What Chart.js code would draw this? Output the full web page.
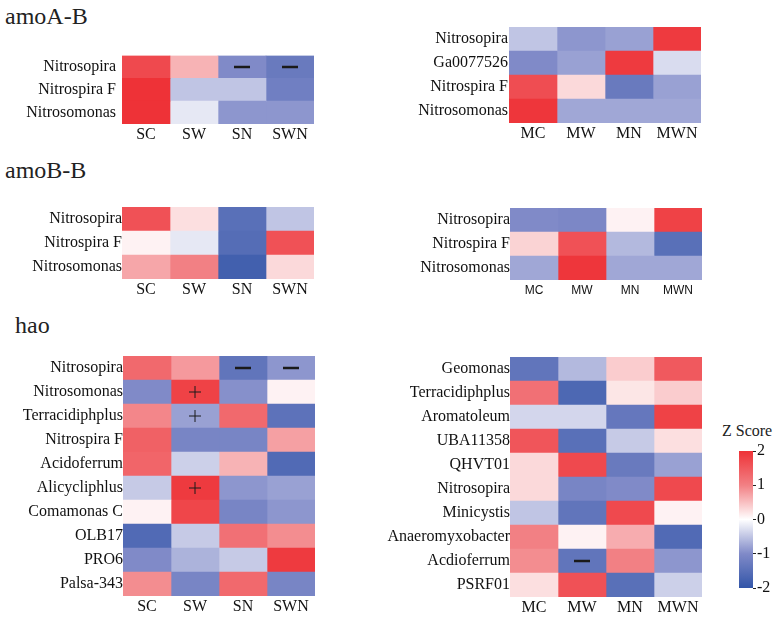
<!DOCTYPE html>
<html>
<head>
<meta charset="utf-8">
<script src="https://cdn.jsdelivr.net/npm/chart.js@4.4.0/dist/chart.umd.min.js"></script>
<style>
  body { margin: 0; background: #fff; }
  #wrap { position: relative; width: 778px; height: 617px; overflow: hidden; }
  canvas { position: absolute; }
  .title { position: absolute; font-family: "Liberation Serif", serif; font-size: 24px; color: #222; line-height: 1; }
  .zs { position: absolute; font-family: "Liberation Serif", serif; font-size: 16px; color: #222; line-height: 1; }
</style>
</head>
<body>
<div id="wrap">
  <div class="title" style="left:5px;top:4px">amoA-B</div>
  <div class="title" style="left:5px;top:158px">amoB-B</div>
  <div class="title" style="left:15px;top:313px">hao</div>
  <div class="zs" style="left:722px;top:423px">Z Score</div>
  <canvas id="aS" width="320" height="100" style="left:0;top:40px"></canvas>
  <canvas id="aM" width="320" height="125" style="left:390px;top:15px"></canvas>
  <canvas id="bS" width="320" height="100" style="left:0;top:195px"></canvas>
  <canvas id="bM" width="320" height="100" style="left:390px;top:196px"></canvas>
  <canvas id="hS" width="320" height="273" style="left:0;top:344px"></canvas>
  <canvas id="hM" width="330" height="272" style="left:380px;top:345px"></canvas>
  <canvas id="bar" width="43" height="160" style="left:735px;top:440px"></canvas>
</div>
<script>
const colsS = ['SC', 'SW', 'SN', 'SWN'];
const colsM = ['MC', 'MW', 'MN', 'MWN'];

// amoA-B
const amoA_S_rows = ['Nitrosopira', 'Nitrospira F', 'Nitrosomonas'];
const amoA_S = [
  [1.7, 0.6, -1.0, -1.3],
  [2.0, -0.5, -0.5, -1.2],
  [2.0, -0.2, -0.9, -0.9]
];
const amoA_S_marks = [[0, 2, '-'], [0, 3, '-']];

const amoA_M_rows = ['Nitrosopira', 'Ga0077526', 'Nitrospira F', 'Nitrosomonas'];
const amoA_M = [
  [-0.5, -0.9, -0.8, 1.9],
  [-1.0, -0.8, 1.9, -0.3],
  [1.65, 0.3, -1.3, -0.8],
  [1.95, -0.75, -0.75, -0.75]
];

// amoB-B
const amoB_S_rows = ['Nitrosopira', 'Nitrospira F', 'Nitrosomonas'];
const amoB_S = [
  [1.6, 0.25, -1.5, -0.5],
  [0.1, -0.2, -1.55, 1.6],
  [0.7, 1.0, -1.8, 0.3]
];

const amoB_M_rows = ['Nitrosopira', 'Nitrospira F', 'Nitrosomonas'];
const amoB_M = [
  [-1.0, -1.05, 0.1, 1.8],
  [0.35, 1.6, -0.6, -1.5],
  [-0.75, 1.95, -0.75, -0.75]
];

// hao
const hao_S_rows = ['Nitrosopira', 'Nitrosomonas', 'Terracidiphplus', 'Nitrospira F', 'Acidoferrum',
  'Alicycliphlus', 'Comamonas C', 'OLB17', 'PRO6', 'Palsa-343'];
const hao_S = [
  [1.3, 0.8, -1.4, -0.9],
  [-1.0, 1.8, -0.95, 0.1],
  [0.95, -0.8, 1.3, -1.45],
  [1.4, -1.1, -1.1, 0.75],
  [1.35, -0.4, 0.6, -1.6],
  [-0.45, 1.9, -0.9, -0.8],
  [0.1, 1.75, -1.1, -0.9],
  [-1.6, -0.45, 1.2, 0.9],
  [-1.0, -0.65, -0.45, 1.9],
  [0.9, -1.1, 1.3, -1.1]
];
const hao_S_marks = [[0, 2, '-'], [0, 3, '-'], [1, 1, '+'], [2, 1, '+'], [5, 1, '+']];

const hao_M_rows = ['Geomonas', 'Terracidiphplus', 'Aromatoleum', 'UBA11358', 'QHVT01', 'Nitrosopira',
  'Minicystis', 'Anaeromyxobacter', 'Acdioferrum', 'PSRF01'];
const hao_M = [
  [-1.4, -0.6, 0.4, 1.5],
  [1.2, -1.65, 0.2, 0.4],
  [-0.35, -0.35, -1.35, 1.8],
  [1.55, -1.5, -0.45, 0.25],
  [0.3, 1.7, -1.3, -0.8],
  [0.3, -1.1, -1.0, 1.7],
  [-0.5, -1.4, 1.7, 0.1],
  [1.0, 0.1, 0.65, -1.6],
  [0.9, -1.4, 1.0, -0.9],
  [0.25, 1.6, -1.5, -0.4]
];
const hao_M_marks = [[8, 1, '-']];

const zTicks = [-2, -1, 0, 1, 2];

// colour stops at z = -2, -1, 0, 1, 2
const zStops = [[50, 85, 168], [128, 138, 200], [255, 255, 255], [242, 128, 132], [238, 50, 55]];

function zColor(z) {
  const t = Math.max(0, Math.min(3.9999, z + 2));
  const i = Math.floor(t), f = t - i;
  const a = zStops[i], b = zStops[i + 1];
  const c = a.map((v, k) => Math.round(v + (b[k] - v) * f));
  return 'rgb(' + c.join(',') + ')';
}

const markPlugin = {
  id: 'marks',
  afterDatasetsDraw(chart, args, opts) {
    const ctx = chart.ctx;
    const xs = chart.scales.x, ys = chart.scales.y;
    ctx.save();
    ctx.strokeStyle = '#1a1a1a';
    (opts.list || []).forEach(([r, c, s]) => {
      const x = xs.getPixelForValue(c + 0.5);
      const y = ys.getPixelForValue(r);
      ctx.beginPath();
      if (s === '-') {
        ctx.lineWidth = 2.5;
        ctx.moveTo(x - 8, y); ctx.lineTo(x + 8, y);
      } else {
        ctx.lineWidth = 1;
        ctx.moveTo(x - 6, y); ctx.lineTo(x + 6, y);
        ctx.moveTo(x, y - 6); ctx.lineTo(x, y + 6);
      }
      ctx.stroke();
    });
    ctx.restore();
  }
};

function heat(id, rows, cols, z, o) {
  new Chart(document.getElementById(id), {
    type: 'bar',
    data: {
      labels: rows,
      datasets: cols.map((c, j) => ({
        data: rows.map(() => [j, j + 1]),
        backgroundColor: rows.map((r, i) => zColor(z[i][j])),
        borderWidth: 0,
        grouped: false,
        barPercentage: 1,
        categoryPercentage: 1
      }))
    },
    options: {
      indexAxis: 'y',
      responsive: false,
      animation: false,
      layout: { padding: { top: o.top, right: o.right, left: 0, bottom: 0 } },
      plugins: { legend: { display: false }, tooltip: { enabled: false }, marks: { list: o.marks || [] } },
      scales: {
        x: {
          type: 'linear', min: 0, max: cols.length,
          afterBuildTicks: s => { s.ticks = cols.map((c, i) => ({ value: i + 0.5 })); },
          afterFit: s => { s.height = o.xh; },
          ticks: {
            autoSkip: false, maxRotation: 0, padding: o.xpad,
            color: '#111',
            font: o.xfont || { family: 'Liberation Serif', size: 16 },
            callback: (v, i) => cols[i]
          },
          grid: { display: false, drawTicks: false },
          border: { display: false }
        },
        y: {
          afterFit: s => { s.width = o.yw; },
          ticks: { color: '#111', padding: o.ypad, font: { family: 'Liberation Serif', size: 16 } },
          grid: { display: false, drawTicks: false },
          border: { display: false }
        }
      }
    },
    plugins: [markPlugin]
  });
}

heat('aS', amoA_S_rows, colsS, amoA_S, { top: 12, right: 6, yw: 122, xh: 16, xpad: 1, ypad: 6, marks: amoA_S_marks });
heat('aM', amoA_M_rows, colsM, amoA_M, { top: 12, right: 9, yw: 119, xh: 17, xpad: 1, ypad: 1 });
heat('bS', amoB_S_rows, colsS, amoB_S, { top: 12, right: 6, yw: 122, xh: 16, xpad: 1, ypad: 0 });
heat('bM', amoB_M_rows, colsM, amoB_M, { top: 12, right: 8, yw: 120, xh: 16, xpad: 3, ypad: 0,
  xfont: { family: 'Liberation Sans', size: 12 } });
heat('hS', hao_S_rows, colsS, hao_S, { top: 12, right: 5, yw: 123, xh: 21, xpad: 1, ypad: 0, marks: hao_S_marks });
heat('hM', hao_M_rows, colsM, hao_M, { top: 12, right: 8, yw: 130, xh: 20, xpad: 1, ypad: 0, marks: hao_M_marks });

// colour key
new Chart(document.getElementById('bar'), {
  type: 'bar',
  data: {
    labels: [''],
    datasets: [{
      data: [[zTicks[0], zTicks[zTicks.length - 1]]],
      borderWidth: 0,
      barPercentage: 1,
      categoryPercentage: 1,
      backgroundColor: (c) => {
        const a = c.chart.chartArea;
        if (!a) return '#fff';
        const g = c.chart.ctx.createLinearGradient(0, a.bottom, 0, a.top);
        zTicks.forEach((v, i) => g.addColorStop(i / (zTicks.length - 1), zColor(v)));
        return g;
      }
    }]
  },
  options: {
    responsive: false,
    animation: false,
    layout: { padding: { top: 11, bottom: 12, left: 4, right: 0 } },
    plugins: { legend: { display: false }, tooltip: { enabled: false } },
    scales: {
      x: { display: false },
      y: {
        position: 'right', min: -2, max: 2,
        afterBuildTicks: s => { s.ticks = zTicks.map(v => ({ value: v })); },
        afterFit: s => { s.width = 25; },
        ticks: { color: '#111', padding: 1, font: { family: 'Liberation Serif', size: 16 } },
        grid: { drawOnChartArea: false, drawTicks: true, tickLength: 3, color: '#222' },
        border: { display: false }
      }
    }
  }
});
</script>
</body>
</html>
